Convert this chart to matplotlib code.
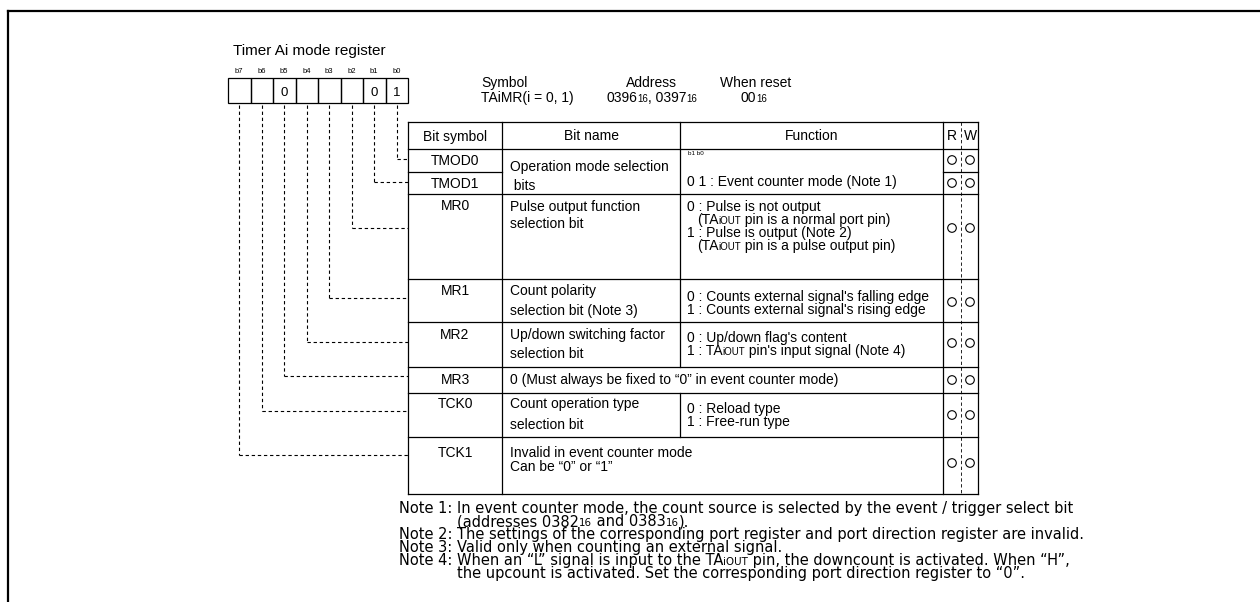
import re
import matplotlib.pyplot as plt
from matplotlib.patches import Circle, Rectangle

plt.rcParams['font.family'] = ['Liberation Sans', 'DejaVu Sans']

# ---- content ----
title = 'Timer Ai mode register'
bit_labels = ['b7', 'b6', 'b5', 'b4', 'b3', 'b2', 'b1', 'b0']
bit_values = ['', '', '0', '', '', '', '0', '1']
reg_heads = ['Symbol', 'Address', 'When reset']
reg_vals = ['TAiMR(i = 0, 1)', '0396{16}, 0397{16}', '00{16}']

header = ['Bit symbol', 'Bit name', 'Function', 'R', 'W']
bit_symbols = ['TMOD0', 'TMOD1', 'MR0', 'MR1', 'MR2', 'MR3', 'TCK0', 'TCK1']
bit_names = [
    ['Operation mode selection', ' bits'],
    [],
    ['Pulse output function', 'selection bit'],
    ['Count polarity', 'selection bit (Note 3)'],
    ['Up/down switching factor', 'selection bit'],
    ['0 (Must always be fixed to “0” in event counter mode)'],
    ['Count operation type', 'selection bit'],
    ['Invalid in event counter mode', 'Can be “0” or “1”'],
]
functions = [
    ['0 1 : Event counter mode (Note 1)'],
    [],
    ['0 : Pulse is not output', '(TA{iOUT} pin is a normal port pin)',
     '1 : Pulse is output (Note 2)', '(TA{iOUT} pin is a pulse output pin)'],
    ["0 : Counts external signal's falling edge",
     "1 : Counts external signal's rising edge"],
    ["0 : Up/down flag's content", "1 : TA{iOUT} pin's input signal (Note 4)"],
    [],
    ['0 : Reload type', '1 : Free-run type'],
    [],
]
notes = [
    ('Note 1:', ['In event counter mode, the count source is selected by the event / trigger select bit',
                 '(addresses 0382{16} and 0383{16}).']),
    ('Note 2:', ['The settings of the corresponding port register and port direction register are invalid.']),
    ('Note 3:', ['Valid only when counting an external signal.']),
    ('Note 4:', ['When an “L” signal is input to the TA{iOUT} pin, the downcount is activated. When “H”,',
                 'the upcount is activated. Set the corresponding port direction register to “0”.']),
]

# ---- layout (pixels) ----
W, H = 1260, 602
box_x0, box_w, box_y0, box_y1 = 228, 22.5, 78, 103
cols = [408, 502, 680, 943, 961, 978]
row_top = [149, 172, 194, 279, 322, 367, 393, 437]
t_top, t_head, t_bot = 122, 149, 494
link_y = [455, 411, 376, 342, 298, 228, 182, 159]   # b7 .. b0
sym_y = [160, 183, 205, 290, 334, 379, 403, 452]
name_y = [[166, 185], [], [206, 223], [290, 310], [334, 353], [379], [403, 424], [452, 466]]
func_y = [[181], [], [206, 219, 232, 245], [296, 309], [337, 350], [], [408, 421], []]
rw_y = [160, 183, 228, 302, 343, 380, 415, 463]
FS = 10
NOTE_FONT = ['DejaVu Sans']

fig = plt.figure(figsize=(W / 100, H / 100), dpi=100)
ax = fig.add_axes([0, 0, 1, 1])
ax.set_xlim(0, W)
ax.set_ylim(H, 0)
ax.axis('off')
rend = fig.canvas.get_renderer()


def rich(x, yc, s, size=FS, ha='left', small=0.7, family=None):
    # text with {..} parts drawn smaller, y given as visual centre
    yb = yc + 0.36 * size * 100 / 72
    kw = {'family': family} if family else {}
    parts = [p for p in re.split(r'(\{[^}]*\})', s) if p]
    texts, cx = [], x
    for p in parts:
        if p.startswith('{'):
            t = ax.text(cx, yb, p[1:-1], fontsize=size * small, va='baseline', ha='left', **kw)
        else:
            t = ax.text(cx, yb, p, fontsize=size, va='baseline', ha='left', **kw)
        cx += t.get_window_extent(rend).width
        texts.append(t)
    if ha == 'center':
        for t in texts:
            tx, ty = t.get_position()
            t.set_position((tx - (cx - x) / 2, ty))
    return cx


def line(xs, ys, lw=0.9, ls='-'):
    ax.plot(xs, ys, color='black', lw=lw, ls=ls, solid_capstyle='projecting')


dash = (0, (3, 2.5))

# outer frame
line([7.5, W], [11, 11], lw=1.6)
line([7.5, 7.5], [11, H], lw=1.6)

# title and register boxes
rich(233, 50, title, size=11)
for i, (lab, val) in enumerate(zip(bit_labels, bit_values)):
    cx = box_x0 + box_w * (i + 0.5)
    rich(cx, 70, lab, size=5.5, ha='center')
    ax.add_patch(Rectangle((box_x0 + box_w * i, box_y0), box_w, box_y1 - box_y0,
                           fill=False, lw=0.9, ec='black'))
    if val:
        rich(cx, 91, val, size=9.5, ha='center')
    # dashed link from bit to its row
    line([cx, cx], [box_y1 + 2, link_y[i]], lw=0.8, ls=dash)
    line([cx, cols[0]], [link_y[i], link_y[i]], lw=0.8, ls=dash)

# symbol / address / reset header
rich(481, 82, reg_heads[0])
rich(651, 82, reg_heads[1], ha='center')
rich(720, 82, reg_heads[2])
rich(481, 97, reg_vals[0])
rich(652, 97, reg_vals[1], ha='center')
rich(754, 97, reg_vals[2], ha='center')

# table grid
for y in [t_top, t_head] + row_top[2:] + [t_bot]:
    line([cols[0], cols[5]], [y, y])
line([cols[0], cols[1]], [row_top[1], row_top[1]])
line([cols[3], cols[5]], [row_top[1], row_top[1]])
for x in [cols[0], cols[1], cols[3], cols[5]]:
    line([x, x], [t_top, t_bot])
line([cols[2], cols[2]], [t_top, row_top[5]])
line([cols[2], cols[2]], [row_top[6], row_top[7]])
line([cols[4], cols[4]], [t_top, t_bot], lw=0.6, ls=(0, (4, 3)))

# header row
hc = (t_top + t_head) / 2
rich((cols[0] + cols[1]) / 2, hc, header[0], ha='center')
rich((cols[1] + cols[2]) / 2, hc, header[1], ha='center')
rich((cols[2] + cols[3]) / 2, hc, header[2], ha='center')
rich(951.5, hc, header[3], ha='center')
rich(970, hc, header[4], ha='center')

# rows
rich(688, 153, 'b1 b0', size=4.5)
for i, sym in enumerate(bit_symbols):
    rich((cols[0] + cols[1]) / 2, sym_y[i], sym, ha='center')
    for s, y in zip(bit_names[i], name_y[i]):
        rich(510, y, s)
    for s, y in zip(functions[i], func_y[i]):
        rich(697 if s.startswith('(') else 687, y, s)
    for cx in (952, 970):
        ax.add_patch(Circle((cx, rw_y[i]), 4.3, fill=False, lw=0.8, ec='black'))

# notes
ny = 508
for lab, lines in notes:
    rich(399, ny, lab, size=10.5, family=NOTE_FONT)
    for s in lines:
        rich(457, ny, s, size=10.5, family=NOTE_FONT)
        ny += 13

fig.savefig('out.png', dpi=100)
